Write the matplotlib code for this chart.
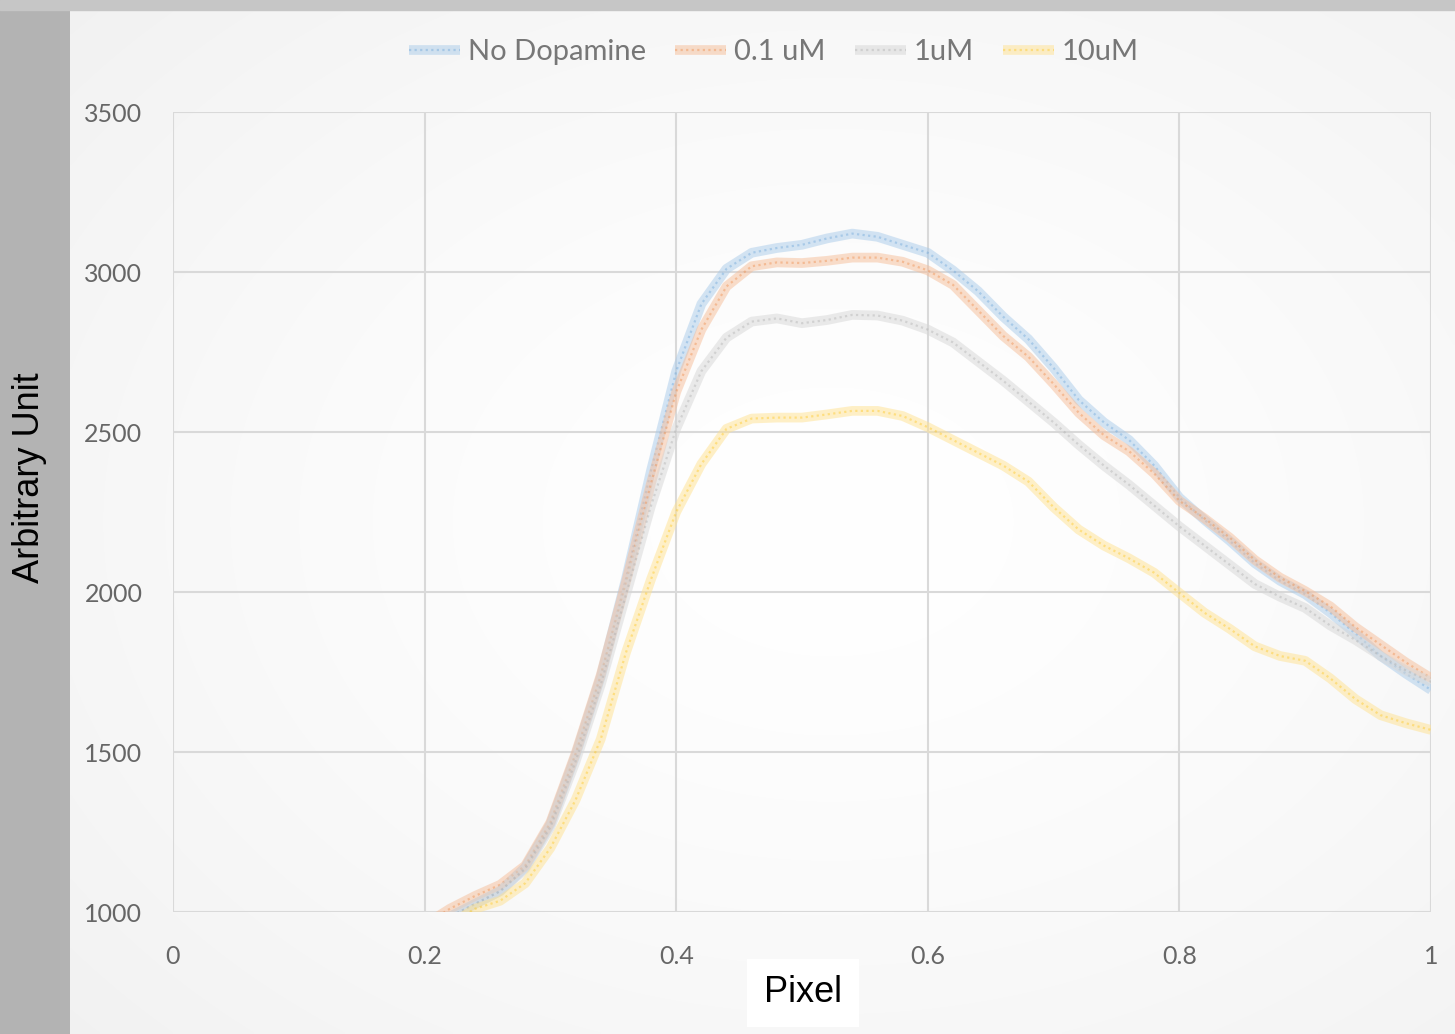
import numpy as np
import matplotlib
matplotlib.use("Agg")
import matplotlib.pyplot as plt
from matplotlib.legend_handler import HandlerTuple

# Values (smoothed Excel lines)
pixel = [0.20, 0.22, 0.24, 0.26, 0.28, 0.30, 0.32, 0.34, 0.36, 0.38,
         0.40, 0.42, 0.44, 0.46, 0.48, 0.50, 0.52, 0.54, 0.56, 0.58,
         0.60, 0.62, 0.64, 0.66, 0.68, 0.70, 0.72, 0.74, 0.76, 0.78,
         0.80, 0.82, 0.84, 0.86, 0.88, 0.90, 0.92, 0.94, 0.96, 0.98, 1.00]

no_dopamine = [930, 985, 1025, 1065, 1140, 1275, 1490, 1735, 2040, 2380,
               2690, 2900, 3010, 3060, 3075, 3085, 3105, 3120, 3110, 3085,
               3060, 3005, 2940, 2860, 2790, 2700, 2600, 2530, 2475, 2395,
               2295, 2225, 2160, 2090, 2035, 1993, 1935, 1870, 1800, 1745, 1694]

dop_0_1uM = [960, 1010, 1050, 1085, 1145, 1280, 1495, 1740, 2030, 2340,
             2625, 2820, 2955, 3018, 3030, 3028, 3035, 3045, 3045, 3032,
             3005, 2960, 2880, 2800, 2735, 2650, 2560, 2490, 2440, 2370,
             2285, 2230, 2170, 2100, 2045, 2003, 1955, 1890, 1835, 1780, 1731]

dop_1uM = [930, 985, 1025, 1065, 1135, 1265, 1470, 1710, 1990, 2270,
           2510, 2690, 2795, 2845, 2855, 2840, 2850, 2866, 2864, 2848,
           2820, 2780, 2720, 2660, 2595, 2530, 2460, 2395, 2335, 2270,
           2205, 2145, 2085, 2025, 1985, 1950, 1895, 1850, 1800, 1755, 1719]

dop_10uM = [900, 960, 1010, 1035, 1090, 1200, 1350, 1540, 1810, 2040,
            2250, 2400, 2510, 2542, 2545, 2545, 2555, 2566, 2566, 2550,
            2515, 2475, 2435, 2395, 2345, 2265, 2195, 2145, 2105, 2060,
            1997, 1935, 1885, 1830, 1800, 1785, 1730, 1665, 1615, 1590, 1569]

series = [
    ("No Dopamine", no_dopamine, "#a9cbea", "#5b9bd5"),
    ("0.1 uM", dop_0_1uM, "#f6bd98", "#ed7d31"),
    ("1uM", dop_1uM, "#d6d6d6", "#a5a5a5"),
    ("10uM", dop_10uM, "#ffe290", "#ffc000"),
]

W, H = 1455, 1034
fig = plt.figure(figsize=(W / 100, H / 100), dpi=100)
fig.patch.set_facecolor("#b3b3b3")

# top strip a bit lighter
fig.patches.append(plt.Rectangle((0, (H - 10) / H), 1, 10 / H,
                                 transform=fig.transFigure,
                                 color="#c6c6c6", zorder=0))

# white panel with soft radial gradient
bg = fig.add_axes([70 / W, 0, (W - 70) / W, (H - 10) / H], zorder=0)
yy, xx = np.mgrid[0:1:300j, 0:1:400j]
r = np.sqrt(((xx - 0.55) / 0.9) ** 2 + ((yy - 0.5) / 0.9) ** 2)
shade = 1.0 - 0.07 * np.clip(r, 0, 1) ** 1.5
bg.imshow(np.dstack([shade, shade, shade]), aspect="auto",
          extent=[0, 1, 0, 1], interpolation="bilinear")
bg.set_axis_off()

ax = fig.add_axes([173 / W, (H - 912) / H, (1431 - 173) / W, 800 / H],
                  zorder=2)
ax.patch.set_alpha(0)

handles = []
for label, vals, light, dark in series:
    l1, = ax.plot(pixel, vals, color=light, lw=7, alpha=0.5,
                  solid_capstyle="butt", solid_joinstyle="round")
    l2, = ax.plot(pixel, vals, color=dark, lw=1.6, alpha=0.35,
                  linestyle=(0, (1, 1.5)))
    handles.append((l1, l2))

ax.set_xlim(0, 1)
ax.set_ylim(1000, 3500)
ax.set_xticks([0, 0.2, 0.4, 0.6, 0.8, 1])
ax.set_xticklabels(["0", "0.2", "0.4", "0.6", "0.8", "1"])
ax.set_yticks([1000, 1500, 2000, 2500, 3000, 3500])
ax.grid(True, color="#d9d9d9", lw=1.5)
ax.set_axisbelow(True)
for s in ax.spines.values():
    s.set_visible(False)
ax.tick_params(length=0, labelsize=18, labelcolor="#666666", pad=24)
ax.tick_params(axis="y", pad=22)
for t in ax.get_xticklabels() + ax.get_yticklabels():
    t.set_fontfamily("Lato")
for t in ax.get_yticklabels():
    t.set_horizontalalignment("right")

fig.text(30 / W, 1 - 478 / H, "Arbitrary Unit", rotation=90,
         ha="center", va="center", fontsize=26, family="Liberation Sans",
         color="black")
fig.text(803 / W, 1 - 993 / H, "Pixel", ha="center", va="center",
         fontsize=26, family="Liberation Sans", color="black",
         bbox=dict(facecolor="white", edgecolor="none", pad=12))

leg = fig.legend(handles, [s[0] for s in series], loc="center",
                 bbox_to_anchor=(774 / W, 1 - 52 / H), ncol=4,
                 frameon=False, handlelength=1.75, handletextpad=0.27,
                 columnspacing=1.0, prop={"family": "Lato", "size": 21},
                 handler_map={tuple: HandlerTuple(ndivide=1, pad=0)})
for t in leg.get_texts():
    t.set_color("#777777")

fig.savefig("out.png", dpi=100, facecolor=fig.get_facecolor())
